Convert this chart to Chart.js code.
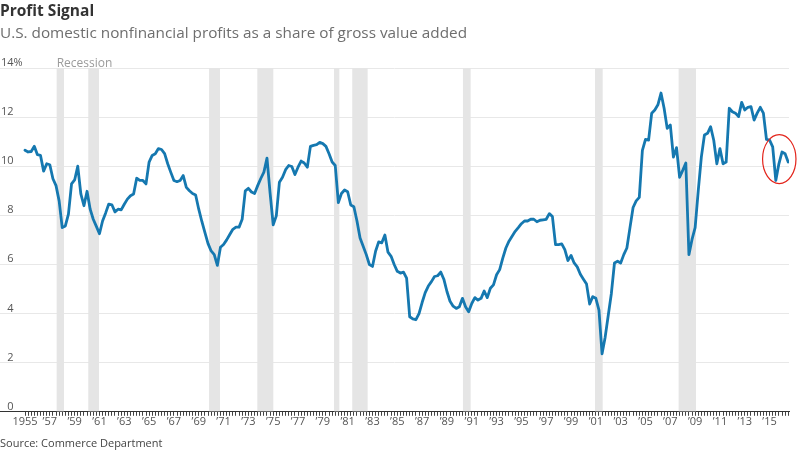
<!DOCTYPE html>
<html>
<head>
<meta charset="utf-8">
<script src="https://cdn.jsdelivr.net/npm/chart.js@4.4.1/dist/chart.umd.min.js"></script>
<style>
html,body{margin:0;padding:0;background:#fff;width:800px;height:450px;overflow:hidden;font-family:'Open Sans',sans-serif;}
#wrap{position:relative;width:800px;height:450px;}
canvas{position:absolute;left:0;top:0;}
.t{position:absolute;left:0;white-space:nowrap;}
#title{top:0px;font-size:15.5px;line-height:20px;font-weight:700;color:#333;}
#sub{top:22px;font-size:15.3px;line-height:20px;color:#6e6e6e;}
#src{top:435px;font-size:11px;line-height:15px;color:#444;}
</style>
</head>
<body>
<div id="wrap">
<canvas id="c" width="800" height="450"></canvas>
<div class="t" id="title">Profit Signal</div>
<div class="t" id="sub">U.S. domestic nonfinancial profits as a share of gross value added</div>
<div class="t" id="src">Source: Commerce Department</div>
</div>
<script>
// ---- data (quarterly, starting 1955 Q1) ----
const startYear = 1955;
const profitShare = [
 10.65,10.58,10.6,10.81,10.47,10.44,9.80,10.1,10.06,9.49,
 9.21,8.59,7.5,7.57,8.05,9.28,9.44,10.0,8.87,8.39,
 8.98,8.25,7.84,7.55,7.25,7.77,8.1,8.46,8.43,8.14,
 8.25,8.22,8.45,8.66,8.8,8.87,9.51,9.42,9.42,9.28,
 10.17,10.44,10.51,10.72,10.68,10.51,10.1,9.75,9.42,9.37,
 9.42,9.62,9.14,9.0,8.89,8.83,8.25,7.75,7.3,6.85,
 6.55,6.4,5.96,6.7,6.81,7.0,7.22,7.43,7.52,7.52,
 7.84,9.0,9.1,8.95,8.89,9.21,9.5,9.76,10.33,8.9,
 7.61,7.98,9.35,9.55,9.86,10.03,9.99,9.66,9.96,10.21,
 10.13,9.96,10.81,10.85,10.88,10.97,10.92,10.81,10.51,10.17,
 10.03,8.52,8.89,9.03,8.96,8.42,8.35,7.77,7.08,6.74,
 6.4,6.0,5.92,6.54,6.92,6.88,7.2,6.5,6.33,6.0,
 5.72,5.65,5.69,5.44,3.87,3.78,3.75,4.0,4.45,4.85,
 5.12,5.3,5.51,5.54,5.69,5.4,4.9,4.5,4.3,4.21,
 4.28,4.62,4.28,4.07,4.41,4.65,4.55,4.62,4.92,4.65,
 5.03,5.17,5.58,5.79,6.26,6.67,6.95,7.15,7.35,7.5,
 7.66,7.77,7.77,7.84,7.84,7.74,7.8,7.82,7.84,8.07,
 7.95,6.81,6.81,6.84,6.6,6.16,6.37,6.06,5.9,5.6,
 5.4,5.2,4.39,4.69,4.62,4.14,2.36,3.04,3.93,4.82,
 6.06,6.13,6.06,6.4,6.67,7.5,8.32,8.59,8.73,10.65,
 11.09,11.06,12.16,12.29,12.5,12.98,12.36,11.54,11.68,10.37,
 10.76,9.55,9.83,10.13,6.4,7.02,7.5,9.0,10.37,11.27,
 11.34,11.61,11.06,10.1,10.72,10.1,10.17,12.36,12.22,12.16,
 12.02,12.6,12.29,12.4,12.43,11.88,12.16,12.4,12.16,11.09,
 11.06,10.79,9.42,10.1,10.58,10.51,10.17
];
const recessionStarts = [1957.55, 1960.10, 1969.83, 1973.72, 1979.90, 1981.37, 1990.29, 2000.93, 2007.67];
const recessionEnds   = [1958.14, 1960.96, 1970.71, 1975.01, 1980.33, 1982.61, 1990.91, 2001.55, 2009.07];
const labelYears = [1955,1957,1959,1961,1963,1965,1967,1969,1971,1973,1975,1977,1979,1981,1983,1985,1987,1989,1991,1993,1995,1997,1999,2001,2003,2005,2007,2009,2011,2013,2015];
const tickLabels = ['1955','\u201957','\u201959','\u201961','\u201963','\u201965','\u201967','\u201969','\u201971','\u201973','\u201975','\u201977','\u201979','\u201981','\u201983','\u201985','\u201987','\u201989','\u201991','\u201993','\u201995','\u201997','\u201999','\u201901','\u201903','\u201905','\u201907','\u201909','\u201911','\u201913','\u201915'];
const yTicks = [0,2,4,6,8,10,12,14];
const highlight = {year: 2015.78, value: 10.29};

// ---- chart ----
const quarterX = profitShare.map((_, i) => startYear + i / 4);
const points = profitShare.map((v, i) => ({x: quarterX[i], y: v}));
const labelMap = {};
labelYears.forEach((yr, i) => { labelMap[yr] = tickLabels[i]; });

const FONT = '"Open Sans", "DejaVu Sans", sans-serif';

const recessionPlugin = {
  id: 'recessions',
  beforeDatasetsDraw(chart) {
    const {ctx, chartArea, scales: {x}} = chart;
    ctx.save();
    ctx.fillStyle = '#e5e5e5';
    recessionStarts.forEach((s, i) => {
      const x0 = x.getPixelForValue(s);
      const x1 = x.getPixelForValue(recessionEnds[i]);
      ctx.fillRect(x0, chartArea.top, x1 - x0, chartArea.bottom - chartArea.top - 0.5);
    });
    ctx.fillStyle = '#9b9b9b';
    ctx.font = '12px ' + FONT;
    ctx.textAlign = 'left';
    ctx.textBaseline = 'alphabetic';
    ctx.fillText('Recession', x.getPixelForValue(recessionStarts[0]), chartArea.top - 1.5);
    ctx.restore();
  }
};

const overlayPlugin = {
  id: 'overlay',
  afterDraw(chart) {
    const {ctx, scales: {x, y}} = chart;
    ctx.save();
    ctx.font = '11px ' + FONT;
    ctx.fillStyle = '#555';
    ctx.textBaseline = 'alphabetic';
    yTicks.forEach((v, i) => {
      const py = y.getPixelForValue(v);
      ctx.textAlign = 'right';
      ctx.fillText(String(v), 13.5, py - 2);
      if (i === yTicks.length - 1) {
        ctx.textAlign = 'left';
        ctx.fillText('%', 13.5, py - 2);
      }
    });
    // highlight ellipse
    ctx.beginPath();
    ctx.ellipse(x.getPixelForValue(highlight.year), y.getPixelForValue(highlight.value), 16.7, 24.5, 0, 0, Math.PI * 2);
    ctx.strokeStyle = '#e3241b';
    ctx.lineWidth = 1.2;
    ctx.stroke();
    ctx.restore();
  }
};

new Chart(document.getElementById('c'), {
  type: 'line',
  data: {
    datasets: [{
      data: points,
      borderColor: '#1578b0',
      borderWidth: 2.8,
      pointRadius: 0,
      tension: 0,
      fill: false,
      borderJoinStyle: 'round',
      borderCapStyle: 'round'
    }]
  },
  options: {
    responsive: false,
    animation: false,
    devicePixelRatio: 1,
    layout: {padding: {top: 68, right: 11, left: 0, bottom: 23}},
    plugins: {legend: {display: false}, tooltip: {enabled: false}},
    scales: {
      x: {
        type: 'linear',
        min: 1952.985,
        max: 2016.564,
        afterBuildTicks: (scale) => { scale.ticks = quarterX.map(v => ({value: v})); },
        grid: {display: true, drawOnChartArea: false, drawTicks: true, tickLength: 4, tickColor: '#444', tickWidth: 1},
        border: {display: true, color: '#333', width: 1},
        ticks: {
          autoSkip: false, maxRotation: 0, minRotation: 0, padding: -1,
          color: '#555', font: {family: FONT, size: 11},
          callback: (value) => (labelMap[value] !== undefined ? labelMap[value] : '')
        }
      },
      y: {
        min: 0, max: 14,
        ticks: {display: false, stepSize: 2},
        grid: {color: '#e8e8e8', lineWidth: 1, drawTicks: false},
        border: {display: false}
      }
    }
  },
  plugins: [recessionPlugin, overlayPlugin]
});
</script>
</body>
</html>
